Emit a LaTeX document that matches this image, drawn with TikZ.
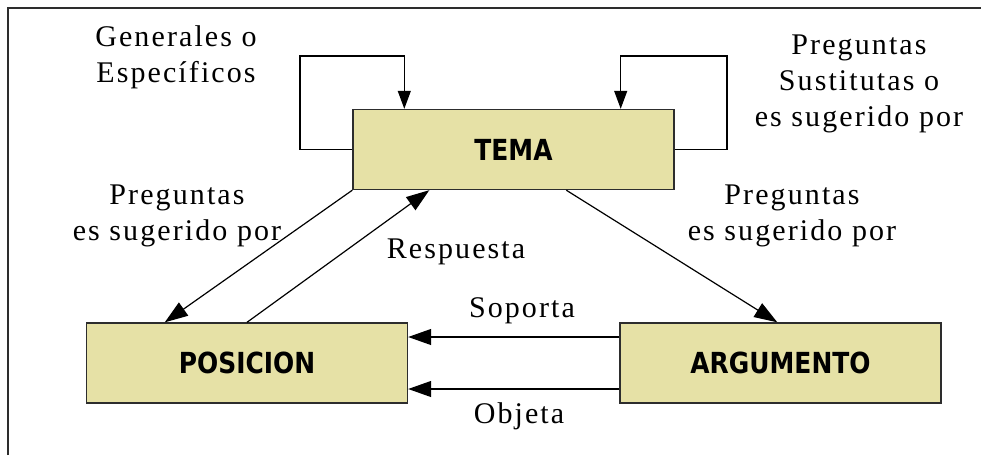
\documentclass[tikz,border=0pt]{standalone}
\usepackage{fontspec}
\usetikzlibrary{arrows.meta}
\newfontfamily\lblfont{Liberation Serif}[LetterSpace=7]
\newfontfamily\boxfont{DejaVu Sans}[FakeStretch=0.86]
\definecolor{boxfill}{RGB}{230,225,166}
\definecolor{boxline}{RGB}{45,45,45}
\tikzset{
  box/.style={draw=boxline, line width=1.4pt, fill=boxfill, minimum width=321pt, minimum height=80pt, inner sep=0pt,
    font={\boxfont\bfseries\fontsize{29}{31}\selectfont}},
  lbl/.style={font={\lblfont\fontsize{30}{36}\selectfont}, align=center, inner sep=0pt},
  conn/.style={line width=1.2pt, -{Triangle[length=23pt,width=16pt]}},
  loopconn/.style={line width=1.2pt, -{Triangle[length=18pt,width=13pt]}},
  frameline/.style={line width=1.5pt, draw=boxline}
}
\begin{document}
\begin{tikzpicture}[x=1pt,y=-1pt]
\useasboundingbox (0,0) rectangle (981,455);
\fill[white] (0,0) rectangle (981,455);
\draw[frameline] (8,455) -- (8,8) -- (981,8);

\node[box] (tema) at (513.5,149.5) {TEMA};
\node[box] (posicion) at (247,363) {POSICION};
\node[box] (argumento) at (780.5,363) {ARGUMENTO};

% self loops
\draw[loopconn] (tema.west) -- (300,149.5) -- (300,56) -| ([xshift=52pt]tema.north west);
\draw[loopconn] (tema.east) -- (727,149.5) -- (727,56) -| ([xshift=-54pt]tema.north east);

% diagonals
\draw[conn] (tema.south west) -- ([xshift=79pt]posicion.north west);
\draw[conn] (posicion.north) -- ([xshift=77pt]tema.south west);
\draw[conn] ([xshift=214pt]tema.south west) -- ([xshift=158pt]argumento.north west);

% horizontals
\draw[conn] ([yshift=26pt]argumento.west) -- ([yshift=26pt]posicion.east);
\draw[conn] ([yshift=-26pt]argumento.west) -- ([yshift=-26pt]posicion.east);

% labels
\node[lbl] (l1) at (176,57.5) {Generales o\\Específicos};
\node[lbl] (l2) at (859,84) {Preguntas\\Sustitutas o\\es sugerido por};
\node[lbl] (l3) at (177,216) {Preguntas\\es sugerido por};
\node[lbl] (l4) at (792,216) {Preguntas\\es sugerido por};
\node[lbl, anchor=base] (l5) at (456,258) {Respuesta};
\node[lbl, anchor=base] (l6) at (522,317) {Soporta};
\node[lbl, anchor=base] (l7) at (519,423) {Objeta};
\end{tikzpicture}
\end{document}
